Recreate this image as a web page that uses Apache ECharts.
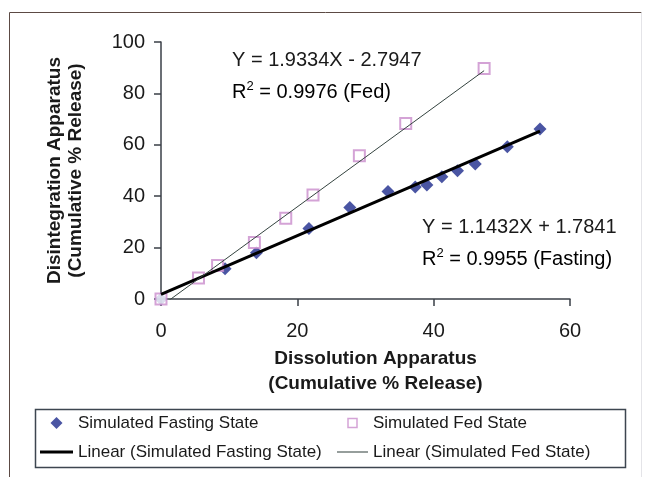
<!DOCTYPE html>
<html>
<head>
<meta charset="utf-8">
<title>Disintegration vs Dissolution Apparatus</title>
<script src="https://cdn.jsdelivr.net/npm/echarts@6/dist/echarts.min.js"></script>
<style>
    html, body { margin: 0; padding: 0; background: #fff; }
    #main { width: 650px; height: 477px; }
</style>
</head>
<body>
<div id="main"></div>
<script>
// data
var fastingX = [0, 9.4, 14.0, 21.7, 27.7, 33.3, 37.3, 39.0, 41.2, 43.5, 46.1, 50.8, 55.6];
var fastingY = [0, 11.8, 18.0, 27.4, 35.6, 41.8, 43.6, 44.4, 47.6, 49.9, 52.5, 59.2, 66.1];
var fedX = [0, 5.5, 8.3, 13.7, 18.3, 22.3, 29.1, 35.9, 47.4];
var fedY = [0, 8.2, 13.0, 22.0, 31.4, 40.5, 55.7, 68.3, 89.7];

// trendline coefficients printed on the chart: [slope, intercept]
var fastingFit = [1.1432, 1.7841];
var fedFit = [1.9334, -2.7947];

var xRange = [0, 60, 20];   // min, max, interval
var yRange = [0, 100, 20];

var names = [
    'Simulated Fasting State',
    'Simulated Fed State',
    'Linear (Simulated Fasting State)',
    'Linear (Simulated Fed State)'
];
var fitTexts = [
    ['Y = 1.9334X - 2.7947', '0.9976 (Fed)'],
    ['Y = 1.1432X + 1.7841', '0.9955 (Fasting)']
];

var FONT = "'Liberation Sans', Arial, Helvetica, sans-serif";
var INK = '#1a1a1a';
var FASTING = '#1d2b8c', FED = '#c98ccc', FEDLINE = '#34433f';

function pairs(xs, ys) {
    return xs.map(function (x, i) { return [x, ys[i]]; });
}
function fitLine(xs, fit) {
    var lo = Math.min.apply(null, xs), hi = Math.max.apply(null, xs);
    return [[lo, fit[0] * lo + fit[1]], [hi, fit[0] * hi + fit[1]]];
}
function eqText(x, y, line1, line2) {
    return [
        { type: 'text', x: x, y: y, style: { text: line1, font: '20px ' + FONT, fill: INK, verticalAlign: 'middle' } },
        { type: 'text', x: x, y: y + 32, style: {
            text: '{r|R}{s|2}{r| = ' + line2 + '}',
            verticalAlign: 'middle',
            rich: {
                r: { fontSize: 20, fontFamily: FONT, color: INK, lineHeight: 24 },
                s: { fontSize: 13, fontFamily: FONT, color: INK, lineHeight: 13, verticalAlign: 'top' }
            }
        } }
    ];
}

var legendText = { fontFamily: FONT, fontSize: 17, lineHeight: 18, color: INK };

var chart = echarts.init(document.getElementById('main'));

var option = {
    backgroundColor: '#fff',
    animation: false,
    grid: { left: 161, right: 80, top: 42, bottom: 178 },
    xAxis: {
        type: 'value',
        min: xRange[0], max: xRange[1], interval: xRange[2],
        name: 'Dissolution Apparatus\n(Cumulative % Release)',
        nameLocation: 'middle',
        nameGap: 46,
        nameTextStyle: { fontFamily: FONT, fontWeight: 'bold', fontSize: 19, lineHeight: 25, color: INK, padding: [0, 0, 0, 20] },
        axisLine: { lineStyle: { color: '#3a3f47', width: 1.5 } },
        axisTick: { length: 7, lineStyle: { color: '#3a3f47', width: 1.5 } },
        axisLabel: { fontFamily: FONT, fontSize: 20, color: INK, margin: 22 },
        splitLine: { show: false }
    },
    yAxis: {
        type: 'value',
        min: yRange[0], max: yRange[1], interval: yRange[2],
        name: 'Disintegration Apparatus\n(Cumulative % Release)',
        nameLocation: 'middle',
        nameRotate: 90,
        nameGap: 75,
        nameTextStyle: { fontFamily: FONT, fontWeight: 'bold', fontSize: 19, lineHeight: 21, color: INK },
        axisLine: { show: true, lineStyle: { color: '#3a3f47', width: 1.5 } },
        axisTick: { show: true, length: 7, lineStyle: { color: '#3a3f47', width: 1.5 } },
        axisLabel: { fontFamily: FONT, fontSize: 20, color: INK, margin: 16 },
        splitLine: { show: false }
    },
    legend: [
        {
            orient: 'vertical', left: 40, top: 414, padding: 0,
            itemWidth: 33, itemHeight: 12, itemGap: 11,
            symbolKeepAspect: true,
            data: [
                { name: names[0], icon: 'path://M5,0L10,5L5,10L0,5Z', itemStyle: { color: FASTING } },
                { name: names[2], icon: 'path://M0,0h44v4h-44z', itemStyle: { color: '#000' } }
            ],
            textStyle: legendText
        },
        {
            orient: 'vertical', left: 337, top: 414, padding: 0,
            itemWidth: 31, itemHeight: 9, itemGap: 11,
            symbolKeepAspect: true,
            data: [
                { name: names[1], icon: 'path://M0,0h10v10h-10z', itemStyle: { color: '#fff', borderColor: FED, borderWidth: 1.5 } },
                { name: names[3], icon: 'path://M0,0h60v2h-60z', itemStyle: { color: FEDLINE } }
            ],
            textStyle: legendText
        }
    ],
    graphic: [
        // outer frame
        { type: 'line', shape: { x1: 9.5, y1: 12.5, x2: 641.5, y2: 12.5 }, style: { stroke: '#5c4a44', lineWidth: 1 } },
        { type: 'line', shape: { x1: 9.5, y1: 12.5, x2: 9.5, y2: 477 }, style: { stroke: '#5c4a44', lineWidth: 1 } },
        { type: 'line', shape: { x1: 641.5, y1: 12.5, x2: 641.5, y2: 477 }, style: { stroke: '#e4e4e8', lineWidth: 1 } },
        // legend box
        { type: 'rect', shape: { x: 35.5, y: 409.5, width: 590, height: 58 }, style: { fill: 'none', stroke: '#3d4650', lineWidth: 1.5 }, z: -1 }
    ].concat(eqText(232, 60, fitTexts[0][0], fitTexts[0][1]))
     .concat(eqText(422, 227, fitTexts[1][0], fitTexts[1][1])),
    series: [
        {
            name: names[0],
            type: 'scatter',
            symbol: 'diamond',
            symbolSize: 13,
            itemStyle: { color: FASTING },
            data: pairs(fastingX, fastingY),
            z: 3
        },
        {
            name: names[1],
            type: 'scatter',
            symbol: 'emptyRect',
            symbolSize: 11,
            itemStyle: { color: FED, borderWidth: 1.5 },
            data: pairs(fedX, fedY),
            z: 3
        },
        {
            name: names[2],
            type: 'line',
            symbol: 'none',
            lineStyle: { color: '#000', width: 3 },
            itemStyle: { color: '#000' },
            data: fitLine(fastingX, fastingFit),
            z: 4
        },
        {
            name: names[3],
            type: 'line',
            symbol: 'none',
            clip: true,
            lineStyle: { color: FEDLINE, width: 1 },
            itemStyle: { color: FEDLINE },
            data: fitLine(fedX, fedFit),
            z: 4
        }
    ]
};

chart.setOption(option);
window.addEventListener('resize', function () { chart.resize(); });
</script>
</body>
</html>
